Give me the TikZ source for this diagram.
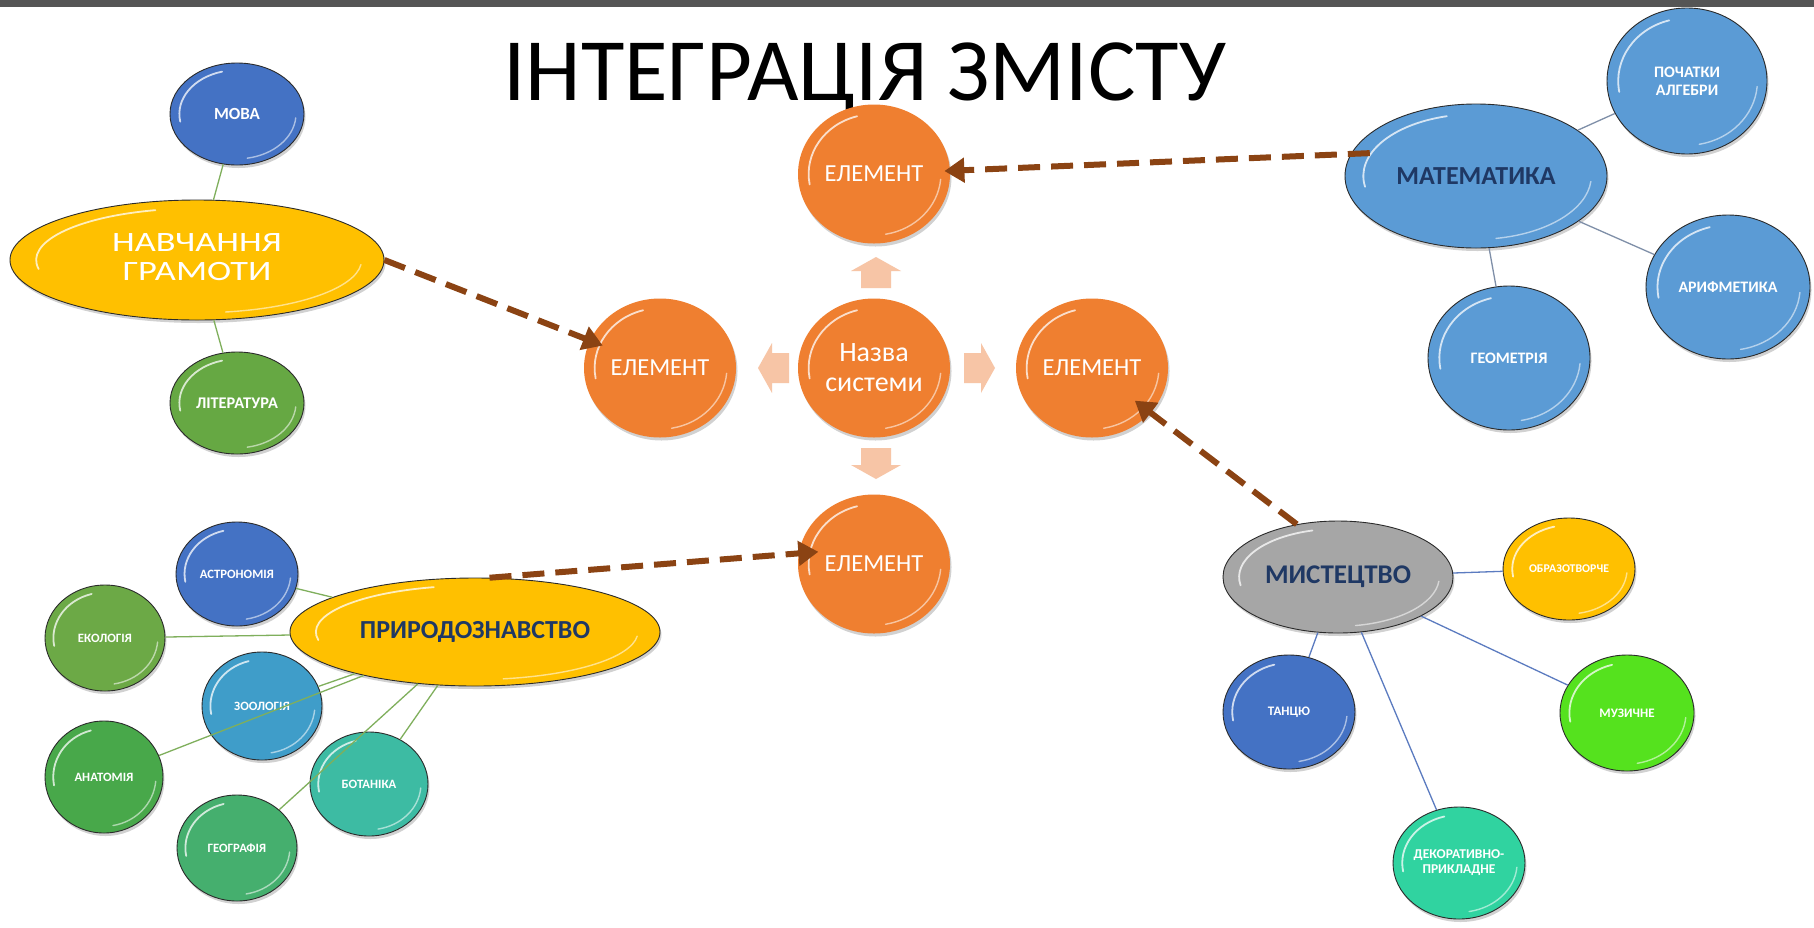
\documentclass[tikz,border=0pt]{standalone}
\usepackage{fontspec}
\usepackage{graphicx}
\setmainfont{Carlito}
\usetikzlibrary{arrows.meta,shapes.geometric,shadows}
\definecolor{barcol}{HTML}{555555}
\definecolor{orangeC}{HTML}{EF7F30}
\definecolor{palearrow}{HTML}{F7C5A6}
\definecolor{brownA}{HTML}{8B4313}
\definecolor{navy}{HTML}{1F3864}
\definecolor{gold}{HTML}{FFC000}
\definecolor{mathblue}{HTML}{5B9BD5}
\definecolor{royal}{HTML}{4472C4}
\definecolor{litgreen}{HTML}{66A843}
\definecolor{ecolgreen}{HTML}{6CA946}
\definecolor{zoolblue}{HTML}{3F9DC9}
\definecolor{anatgreen}{HTML}{48A84A}
\definecolor{botanteal}{HTML}{3DBBA3}
\definecolor{geogrgreen}{HTML}{45AF6E}
\definecolor{artgray}{HTML}{A6A6A6}
\definecolor{muzgreen}{HTML}{55E21E}
\definecolor{dekorteal}{HTML}{30D3A0}
\definecolor{rimdark}{HTML}{2B2B2B}
\definecolor{greenline}{HTML}{7FAF5C}
\definecolor{grayline}{HTML}{7F8FA8}
\definecolor{blueline}{HTML}{5B7BC0}
\tikzset{
  bub/.style 2 args={ellipse, draw=rimdark, line width=0.9pt,
    minimum width=#1, minimum height=#2, inner sep=0pt, align=center,
    text=white, font=\bfseries\fontsize{12.7}{14}\selectfont,
    drop shadow={shadow xshift=1.5pt, shadow yshift=-3pt, opacity=.18, fill=black},
    path picture={
      \draw[white,opacity=.75,line width=1.8pt,line cap=round]
        (path picture bounding box.center) ++(105:{0.43*#1} and {0.43*#2})
        arc[start angle=105,end angle=190,x radius={0.43*#1},y radius={0.43*#2}];
      \draw[white,opacity=.55,line width=1.4pt,line cap=round]
        (path picture bounding box.center) ++(-80:{0.44*#1} and {0.44*#2})
        arc[start angle=-80,end angle=-5,x radius={0.44*#1},y radius={0.44*#2}];
    }},
  orb/.style={bub={152pt}{139pt}, draw=none, fill=orangeC,
    font=\fontsize{24.5}{28}\selectfont},
  thinlink/.style={line width=1.3pt},
  dasharrow/.style={draw=brownA, line width=6pt, dash pattern=on 22pt off 11pt,
    -{Triangle[length=20pt,width=24pt]}},
  blockarrow/.pic={\fill[palearrow] (0pt,-15pt) -- (17pt,-15pt) -- (17pt,-25pt)
    -- (31pt,0pt) -- (17pt,25pt) -- (17pt,15pt) -- (0pt,15pt) -- cycle;}
}
\begin{document}
\begin{tikzpicture}[x=1pt,y=-1pt]
\useasboundingbox (0,0) rectangle (1814,927);
\fill[white] (0,0) rectangle (1814,927);
\fill[barcol] (0,0) rectangle (1814,7);
\node[anchor=base, font=\fontsize{89}{89}\selectfont] (title) at (865,100) {ІНТЕГРАЦІЯ ЗМІСТУ};

% pale block arrows around the centre
\pic[rotate=90] at (876,288) {blockarrow};
\pic[rotate=180] at (789,368) {blockarrow};
\pic at (964,368) {blockarrow};
\pic[rotate=-90] at (876,448) {blockarrow};

% central system
\node[orb] (elemT) at (874,174) {ЕЛЕМЕНТ};
\node[orb] (elemL) at (660,368) {ЕЛЕМЕНТ};
\node[orb, font=\fontsize{28}{30}\selectfont] (centre) at (874,368) {Назва\\системи};
\node[orb] (elemR) at (1092,368) {ЕЛЕМЕНТ};
\node[orb] (elemB) at (874,564) {ЕЛЕМЕНТ};

% literacy cluster
\node[bub={134pt}{102pt}, fill=royal, font=\bfseries\fontsize{17}{19}\selectfont] (mova) at (237,114) {МОВА};
\node[bub={374pt}{120pt}, fill=gold, font=\fontsize{28}{29}\selectfont] (navch) at (197,260)
  {\scalebox{1.3}[1]{\begin{tabular}{@{}c@{}}НАВЧАННЯ\\ГРАМОТИ\end{tabular}}};
\node[bub={134pt}{102pt}, fill=litgreen, font=\bfseries\fontsize{16.3}{18}\selectfont] (lit) at (237,403) {ЛІТЕРАТУРА};

% maths cluster
\node[bub={160pt}{146pt}, fill=mathblue, font=\bfseries\fontsize{16}{18}\selectfont] (pochat) at (1687,81) {ПОЧАТКИ\\АЛГЕБРИ};
\node[bub={262pt}{144pt}, fill=mathblue, text=navy, font=\bfseries\fontsize{26}{30}\selectfont] (math) at (1476,176) {МАТЕМАТИКА};
\node[bub={164pt}{144pt}, fill=mathblue, font=\bfseries\fontsize{16}{18}\selectfont] (arif) at (1728,287) {АРИФМЕТИКА};
\node[bub={162pt}{144pt}, fill=mathblue, font=\bfseries\fontsize{16}{18}\selectfont] (geom) at (1509,358) {ГЕОМЕТРІЯ};

% nature cluster
\node[bub={122pt}{104pt}, fill=royal] (astr) at (237,574) {АСТРОНОМІЯ};
\node[bub={120pt}{106pt}, fill=ecolgreen] (ecol) at (105,638) {ЕКОЛОГІЯ};
\node[bub={120pt}{108pt}, fill=zoolblue] (zool) at (262,706) {ЗООЛОГІЯ};
\node[bub={118pt}{112pt}, fill=anatgreen] (anat) at (104,777) {АНАТОМІЯ};
\node[bub={118pt}{104pt}, fill=botanteal] (botan) at (369,784) {БОТАНІКА};
\node[bub={120pt}{106pt}, fill=geogrgreen] (geogr) at (237,848) {ГЕОГРАФІЯ};
\node[bub={370pt}{108pt}, fill=gold, text=navy, font=\bfseries\fontsize{26}{28}\selectfont] (prirod) at (475,632) {ПРИРОДОЗНАВСТВО};

% arts cluster
\node[bub={230pt}{112pt}, fill=artgray, text=navy, font=\bfseries\fontsize{27}{30}\selectfont] (mist) at (1338,577) {МИСТЕЦТВО};
\node[bub={132pt}{102pt}, fill=gold, font=\bfseries\fontsize{11.8}{13}\selectfont] (obraz) at (1569,569) {ОБРАЗОТВОРЧЕ};
\node[bub={134pt}{116pt}, fill=muzgreen, font=\bfseries\fontsize{13}{14}\selectfont] (muz) at (1627,713) {МУЗИЧНЕ};
\node[bub={132pt}{114pt}, fill=royal, font=\bfseries\fontsize{13}{14}\selectfont] (tanc) at (1289,712) {ТАНЦЮ};
\node[bub={132pt}{112pt}, fill=dekorteal, font=\bfseries\fontsize{13.5}{15}\selectfont] (dekor) at (1459,863) {ДЕКОРАТИВНО-\\ПРИКЛАДНЕ};

% thin connectors
\draw[thinlink, greenline] (mova) -- (navch);
\draw[thinlink, greenline] (navch) -- (lit);
\draw[thinlink, greenline] (prirod) -- (astr);
\draw[thinlink, greenline] (prirod) -- (ecol);
\draw[thinlink, greenline] (prirod) -- (zool);
\draw[thinlink, greenline] (prirod) -- (anat);
\draw[thinlink, greenline] (prirod) -- (botan);
\draw[thinlink, greenline] (prirod) -- (geogr);
\draw[thinlink, grayline] (math) -- (pochat);
\draw[thinlink, grayline] (math) -- (arif);
\draw[thinlink, grayline] (math) -- (geom);
\draw[thinlink, blueline] (mist) -- (obraz);
\draw[thinlink, blueline] (mist) -- (muz);
\draw[thinlink, blueline] (mist) -- (tanc);
\draw[thinlink, blueline] (mist) -- (dekor);

% dashed links into the system
\draw[dasharrow, shorten >=-14pt] (navch.east) -- (elemL);
\draw[dasharrow, shorten <=-19pt, shorten >=-6pt] (math.170) -- (elemT);
\draw[dasharrow, shorten >=-20pt] (mist.128) -- (elemR);
\draw[dasharrow, shorten >=-20pt] (prirod.75) -- (elemB.172);
\end{tikzpicture}
\end{document}
